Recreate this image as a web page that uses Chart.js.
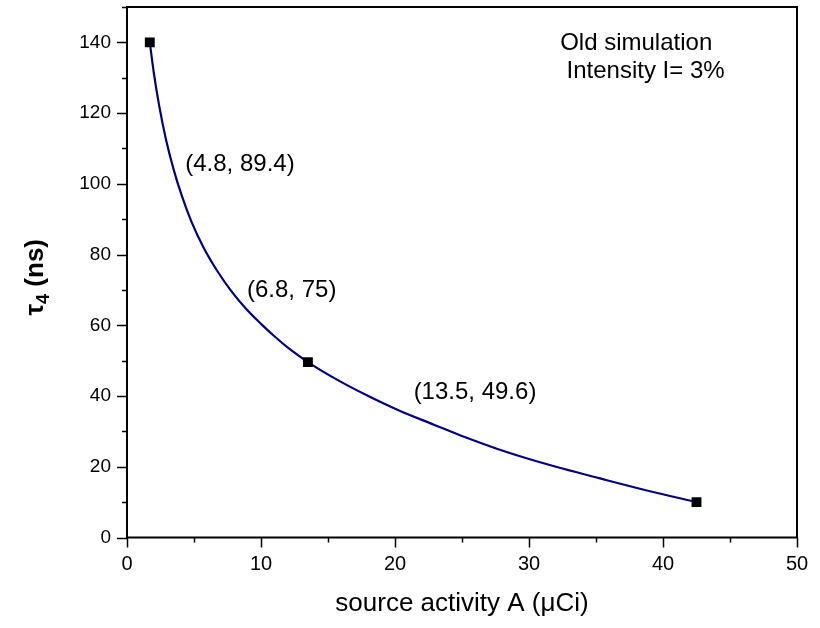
<!DOCTYPE html>
<html>
<head>
<meta charset="utf-8">
<script src="https://cdn.jsdelivr.net/npm/chart.js@4.4.1/dist/chart.umd.min.js"></script>
<style>
  html, body { margin: 0; padding: 0; background: #fff; }
</style>
</head>
<body>
<canvas id="canvas" width="820" height="628"></canvas>
<script>
// simulated points: source activity (uCi) vs tau4 (ns)
const activity = [1.7, 13.5, 42.5]
const tau = [140, 49.6, 10]

// fitted curve
const fitX = [1.7, 2.0, 2.4, 2.9, 3.5, 4.1, 4.8, 5.7, 6.8, 7.8, 8.9, 10.0, 11.0, 12.2, 13.5, 15.5, 17.9, 20.3, 22.9, 25.2, 27.6, 30.0, 32.5, 35.3, 38.8, 42.5]
const fitY = [140, 131.4, 122.1, 112.7, 103.8, 96.5, 89.4, 82.1, 75, 69.6, 64.6, 60.4, 56.9, 53.1, 49.6, 45, 40.2, 35.9, 31.9, 28.4, 25.1, 22.2, 19.5, 16.7, 13.3, 10]

// text written on the plot
const noteText = ['(4.8, 89.4)', '(6.8, 75)', '(13.5, 49.6)']
const boxText = ['Old simulation', 'Intensity I= 3%']

const FONT = '"Liberation Sans", Arial, sans-serif'
const canvas = document.getElementById('canvas')
const ctx = canvas.getContext('2d')

// box, minor + major ticks (outside), annotations, y title with subscript
const decor = {
  id: 'decor',
  afterDraw(chart) {
    const c = chart.ctx
    const a = chart.chartArea
    const xs = chart.scales.x
    const ys = chart.scales.y
    c.save()
    c.strokeStyle = '#000'
    c.lineWidth = 2
    c.strokeRect(a.left, a.top, a.right - a.left, a.bottom - a.top)

    c.lineWidth = 1.5
    c.beginPath()
    for (let v = xs.min; v <= xs.max; v += 5) {
      const px = Math.round(xs.getPixelForValue(v)) + 0.5
      const len = v % 10 === 0 ? 10 : 5
      c.moveTo(px, a.bottom)
      c.lineTo(px, a.bottom + len)
    }
    for (let v = ys.min; v <= ys.max; v += 10) {
      const py = Math.round(ys.getPixelForValue(v)) + 0.5
      const len = v % 20 === 0 ? 10 : 5
      c.moveTo(a.left, py)
      c.lineTo(a.left - len, py)
    }
    c.stroke()

    // annotations, anchored in data units
    c.fillStyle = '#000'
    c.textAlign = 'center'
    c.textBaseline = 'middle'
    c.font = '24px ' + FONT
    const spots = [[8.43, 105.4], [12.29, 70.0], [25.97, 41.0]]
    noteText.forEach((t, i) => {
      c.fillText(t, xs.getPixelForValue(spots[i][0]), ys.getPixelForValue(spots[i][1]))
    })
    c.fillText(boxText[0], xs.getPixelForValue(38.0), ys.getPixelForValue(139.8))
    c.fillText(boxText[1], xs.getPixelForValue(38.7), ys.getPixelForValue(131.8))

    // y axis title: tau with subscript 4
    const cy = (a.top + a.bottom) / 2 + 5
    c.translate(34, cy)
    c.rotate(-Math.PI / 2)
    c.textAlign = 'left'
    c.textBaseline = 'alphabetic'
    const big = 'bold 26px ' + FONT
    const small = 'bold 18px ' + FONT
    c.font = big
    const w1 = c.measureText('\u03c4').width
    const w3 = c.measureText(' (ns)').width
    c.font = small
    const w2 = c.measureText('4').width
    let x0 = -(w1 + w2 + w3) / 2
    c.font = big
    c.fillText('\u03c4', x0, 9)
    c.font = small
    c.fillText('4', x0 + w1, 15)
    c.font = big
    c.fillText(' (ns)', x0 + w1 + w2, 9)
    c.restore()
  }
}

const fitData = fitX.map((x, i) => ({ x: x, y: fitY[i] }))
const pointData = activity.map((x, i) => ({ x: x, y: tau[i] }))

new Chart(ctx, {
  type: 'scatter',
  data: {
    datasets: [{
      data: pointData,
      showLine: false,
      pointStyle: 'rect',
      pointRadius: 7,
      pointHoverRadius: 7,
      backgroundColor: '#000',
      borderColor: '#000',
      borderWidth: 0,
      order: 0
    }, {
      data: fitData,
      showLine: true,
      pointRadius: 0,
      borderColor: '#000080',
      borderWidth: 2.2,
      cubicInterpolationMode: 'monotone',
      order: 1
    }]
  },
  options: {
    responsive: false,
    animation: false,
    events: [],
    layout: { padding: { top: 7, right: 23, left: 0, bottom: 0 } },
    plugins: { legend: { display: false }, tooltip: { enabled: false } },
    scales: {
      x: {
        type: 'linear',
        min: 0,
        max: 50,
        afterFit(s) {
          s.height = 90.5
          s.paddingLeft = 0
          s.paddingRight = 0
        },
        grid: { display: false, drawTicks: false },
        border: { display: false },
        ticks: {
          stepSize: 10,
          padding: 15,
          color: '#000',
          maxRotation: 0,
          font: { family: FONT, size: 20 }
        },
        title: {
          display: true,
          text: 'source activity A (\u03bcCi)',
          color: '#000',
          padding: { top: 0, bottom: 9 },
          font: { family: FONT, size: 26 }
        }
      },
      y: {
        type: 'linear',
        min: 0,
        max: 150,
        afterFit(s) {
          s.width = 127
          s.paddingTop = 0
          s.paddingBottom = 0
        },
        grid: { display: false, drawTicks: false },
        border: { display: false },
        ticks: {
          stepSize: 20,
          includeBounds: false,
          padding: 16,
          color: '#000',
          font: { family: FONT, size: 19 }
        }
      }
    }
  },
  plugins: [decor]
})
</script>
</body>
</html>
